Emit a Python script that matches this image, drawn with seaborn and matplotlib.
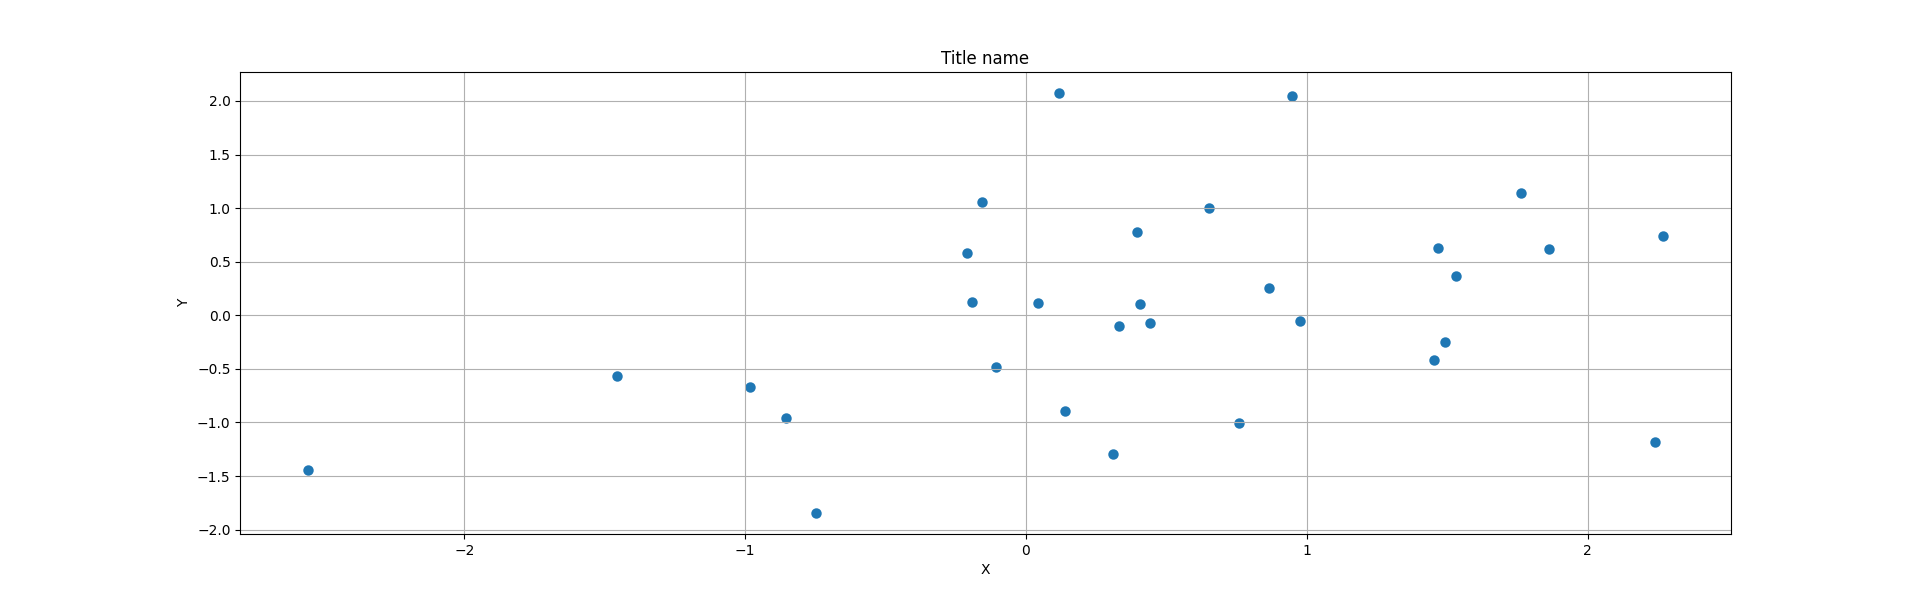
import matplotlib
matplotlib.use("Agg")
import matplotlib.pyplot as plt
import seaborn as sns

# point values
x_vals = [-2.556, -1.457, -0.981, -0.855, -0.746, -0.209, -0.192, -0.157, -0.105, 0.044,
          0.118, 0.140, 0.310, 0.332, 0.397, 0.406, 0.441, 0.650, 0.759, 0.864,
          0.947, 0.977, 1.453, 1.466, 1.492, 1.531, 1.762, 1.863, 2.238, 2.268]
y_vals = [-1.444, -0.562, -0.665, -0.963, -1.845, 0.585, 0.126, 1.054, -0.481, 0.115,
          2.074, -0.894, -1.295, -0.103, 0.779, 0.103, -0.069, 0.997, -1.009, 0.252,
          2.045, -0.057, -0.413, 0.632, -0.252, 0.367, 1.140, 0.619, -1.181, 0.740]

fig, ax = plt.subplots(figsize=(19.23, 6), dpi=100)
sns.scatterplot(x=x_vals, y=y_vals, ax=ax, color='#1f77b4', edgecolor='#1f77b4', linewidth=1.5, s=36)
ax.grid(True)
ax.set_xlabel('X')
ax.set_ylabel('Y')
ax.set_title('Title name')
plt.savefig('out.png', dpi=100)
